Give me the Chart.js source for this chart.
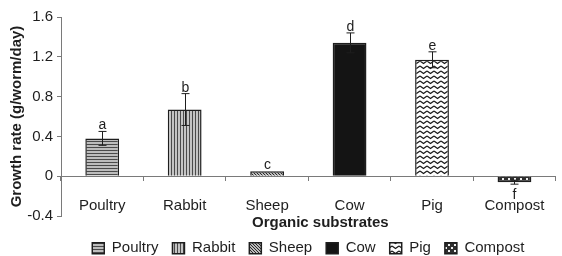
<!DOCTYPE html>
<html>
<head>
<meta charset="utf-8">
<script src="https://cdn.jsdelivr.net/npm/chart.js@4"></script>
<style>
    body { margin: 0; background: #fff; }
</style>
</head>
<body>
<canvas id="growth_chart" width="562" height="256"></canvas>
<script>
var substrates = ['Poultry', 'Rabbit', 'Sheep', 'Cow', 'Pig', 'Compost']
var growthRates = [0.38, 0.67, 0.05, 1.34, 1.17, -0.06]
var growthErrors = [0.07, 0.16, 0, 0.10, 0.08, 0.02]
var groupLetters = ['a', 'b', 'c', 'd', 'e', 'f']
var yTicks = [-0.4, 0, 0.4, 0.8, 1.2, 1.6]

var font = "'Liberation Sans', Arial, sans-serif"
var ink = '#1e1e1e'
var axisGray = '#7a7a7a'

function makePattern(w, h, bg, paint) {
    var c = document.createElement('canvas')
    c.width = w
    c.height = h
    var g = c.getContext('2d')
    g.fillStyle = bg
    g.fillRect(0, 0, w, h)
    paint(g)
    return g.createPattern(c, 'repeat')
}

var fills = [
    // poultry - horizontal lines
    makePattern(3, 3, '#bdbdbd', function (g) {
        g.fillStyle = '#4a4a4a'
        g.fillRect(0, 0, 3, 1)
    }),
    // rabbit - vertical lines
    makePattern(3, 3, '#c4c4c4', function (g) {
        g.fillStyle = '#4a4a4a'
        g.fillRect(0, 0, 1, 3)
    }),
    // sheep - diagonal hatch
    makePattern(3, 3, '#bbbbbb', function (g) {
        g.fillStyle = '#2a2a2a'
        for (var i = 0; i < 3; i++) g.fillRect(i, i, 1, 1)
    }),
    '#141414',
    // pig - zigzag waves
    makePattern(7, 5, '#ffffff', function (g) {
        g.strokeStyle = '#1a1a1a'
        g.lineWidth = 1.3
        g.beginPath()
        g.moveTo(0, 1)
        g.lineTo(3.5, 3.5)
        g.lineTo(7, 1)
        g.stroke()
    }),
    // compost - checks
    makePattern(6, 6, '#2e2e2e', function (g) {
        g.fillStyle = '#f0f0f0'
        g.fillRect(1, 1, 2, 2)
        g.fillRect(4, 4, 2, 2)
    })
]

var errorBars = {
    id: 'errorBars',
    afterDatasetsDraw(chart) {
        var ctx = chart.ctx
        var y = chart.scales.y
        ctx.save()
        ctx.strokeStyle = ink
        ctx.fillStyle = ink
        ctx.lineWidth = 1
        ctx.font = '14px ' + font
        ctx.textAlign = 'center'
        ctx.textBaseline = 'alphabetic'
        growthRates.forEach(function (v, i) {
            var bar = chart.getDatasetMeta(i).data[i]
            var x = Math.round(bar.x) + 0.5
            var e = growthErrors[i]
            var top = y.getPixelForValue(v + e)
            var bottom = y.getPixelForValue(v - e)
            if (e > 0) {
                ctx.beginPath()
                ctx.moveTo(x, top)
                ctx.lineTo(x, bottom)
                ctx.moveTo(x - 4, top)
                ctx.lineTo(x + 4, top)
                ctx.moveTo(x - 4, bottom)
                ctx.lineTo(x + 4, bottom)
                ctx.stroke()
            }
            if (v >= 0) {
                ctx.fillText(groupLetters[i], x, top - 2)
            } else {
                ctx.fillText(groupLetters[i], x, bottom + 15)
            }
        })
        ctx.restore()
    }
}

var xTitle = {
    id: 'xTitle',
    afterDraw(chart) {
        var ctx = chart.ctx
        var area = chart.chartArea
        ctx.save()
        ctx.fillStyle = ink
        ctx.font = 'bold 15px ' + font
        ctx.textAlign = 'center'
        ctx.textBaseline = 'middle'
        ctx.fillText('Organic substrates', (area.left + area.right) / 2 + 12, 223)
        ctx.restore()
    }
}

function drawGraph() {
    var datasets = substrates.map(function (name, i) {
        return {
            label: name,
            data: substrates.map(function (s, j) { return j == i ? growthRates[i] : null }),
            backgroundColor: fills[i],
            borderColor: ink,
            borderWidth: 1.5,
            grouped: false,
            barPercentage: 0.41,
            categoryPercentage: 1
        }
    })

    var ctx = document.getElementById('growth_chart').getContext('2d')
    var myChart = new Chart(ctx, {
        type: 'bar',
        data: {
            labels: substrates,
            datasets: datasets
        },
        plugins: [errorBars, xTitle],
        options: {
            responsive: false,
            animation: false,
            layout: { padding: { top: 17, right: 1, left: 0, bottom: 0 } },
            plugins: {
                tooltip: { enabled: false },
                legend: {
                    position: 'bottom',
                    fullSize: false,
                    maxHeight: 40,
                    title: { display: true, text: '', font: { size: 9 }, padding: 0 },
                    labels: {
                        boxWidth: 12,
                        boxHeight: 11,
                        padding: 14,
                        color: ink,
                        font: { size: 15, family: font }
                    }
                }
            },
            scales: {
                x: {
                    position: { y: 0 },
                    offset: true,
                    grid: { offset: true, drawOnChartArea: false, tickLength: 4, color: axisGray },
                    border: { color: axisGray },
                    ticks: { padding: 17, color: ink, maxRotation: 0, font: { size: 15, family: font } }
                },
                y: {
                    min: -0.4,
                    max: 1.6,
                    afterBuildTicks: function (s) { s.ticks = yTicks.map(function (v) { return { value: v } }) },
                    afterFit: function (s) { s.width = 61 },
                    grid: { drawOnChartArea: false, tickLength: 4, color: axisGray },
                    border: { color: axisGray },
                    ticks: {
                        padding: 4,
                        color: ink,
                        font: { size: 15, family: font },
                        callback: function (v) { return String(Number(v.toFixed(1))) }
                    },
                    title: {
                        display: true,
                        text: 'Growth rate (g/worm/day)',
                        color: ink,
                        font: { size: 15, weight: 'bold', family: font },
                        padding: { top: 8, bottom: 0 }
                    }
                }
            }
        }
    })
}

drawGraph()
</script>
</body>
</html>
